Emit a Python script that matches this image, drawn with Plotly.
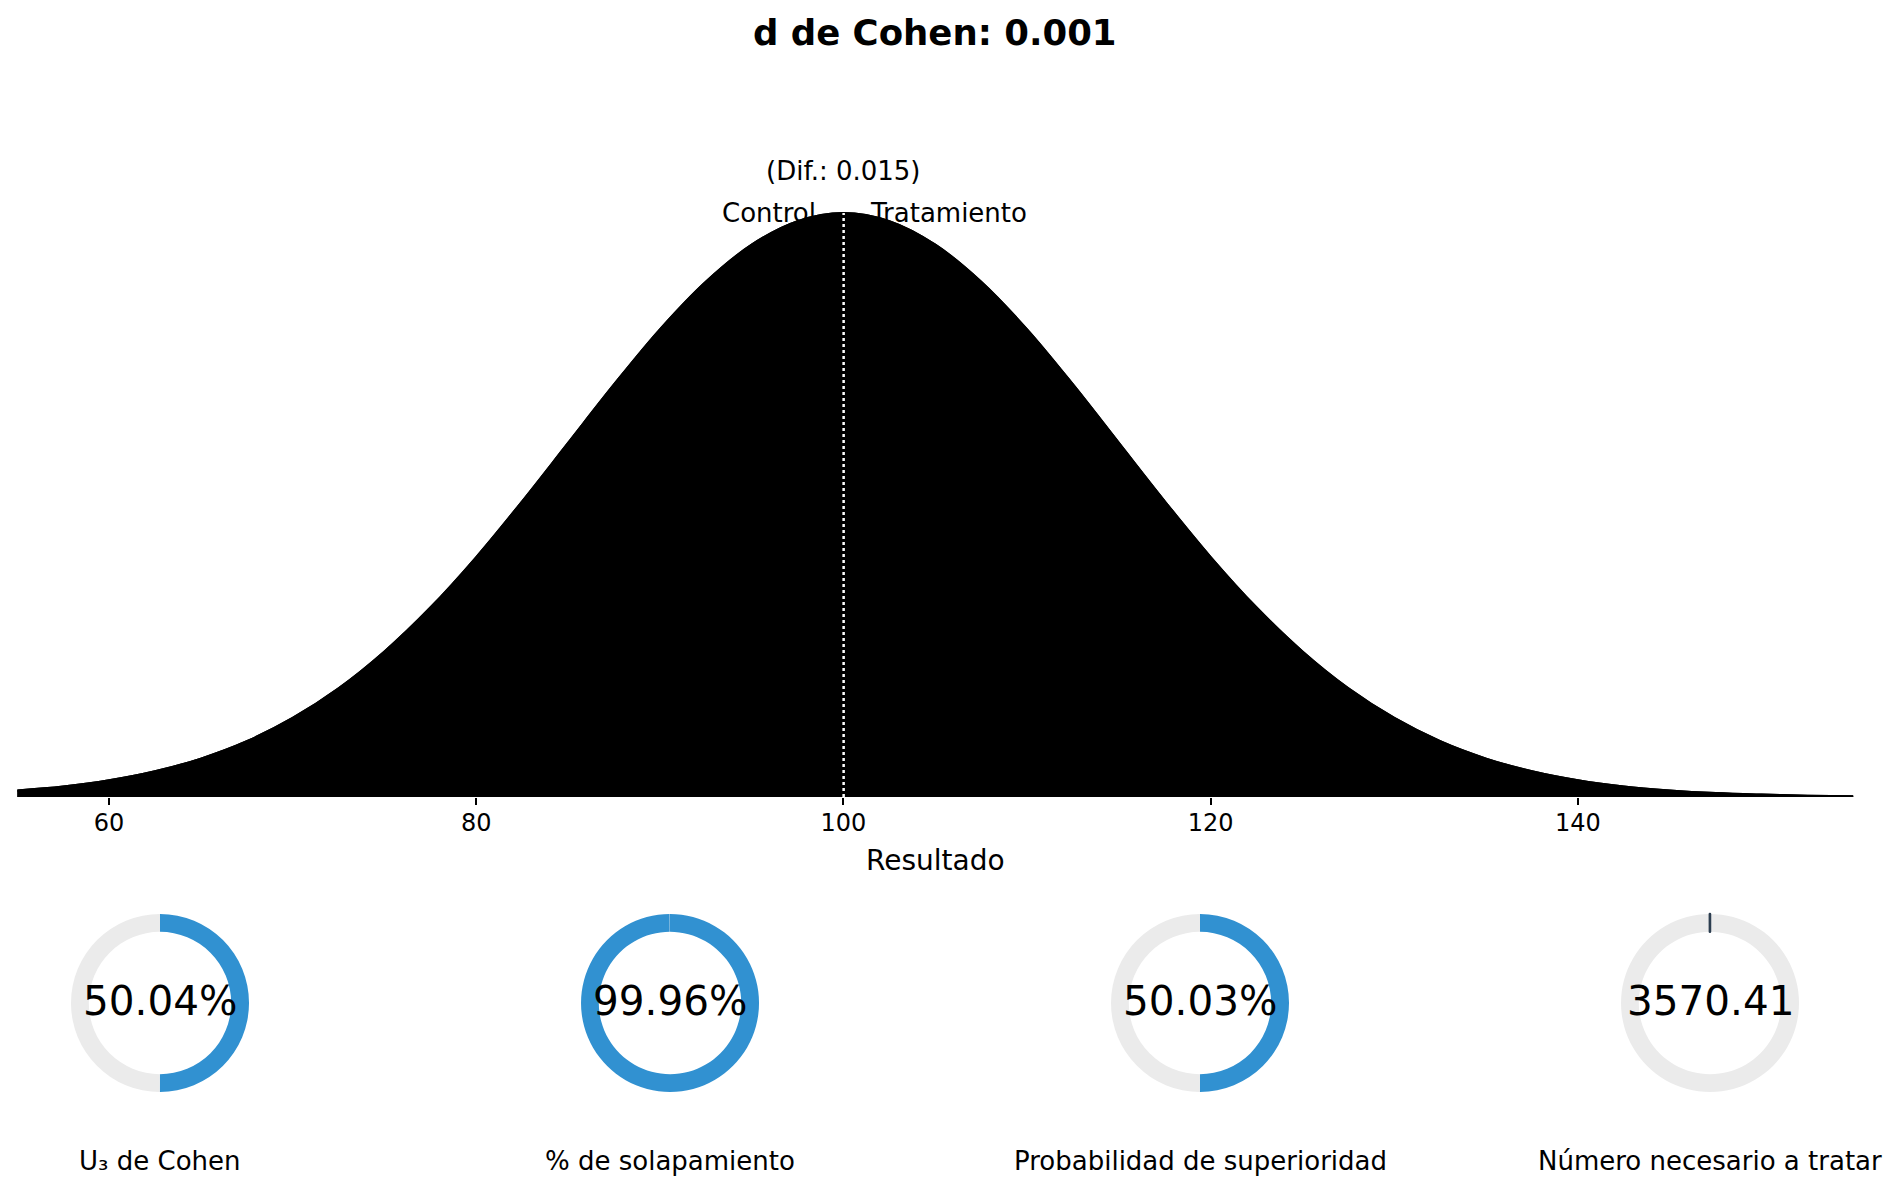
import plotly.graph_objects as go

# -----------------------------------------------------------
# Data
# -----------------------------------------------------------
x_grid = [55, 57.5, 60, 62.5, 65, 67.5, 70, 72.5, 75, 77.5, 80, 82.5, 85, 87.5,
          90, 92.5, 95, 97.5, 100, 102.5, 105, 107.5, 110, 112.5, 115, 117.5,
          120, 122.5, 125, 127.5, 130, 132.5, 135, 137.5, 140, 142.5, 145,
          147.5, 150, 152.5, 155]
control_density = [0.00030, 0.00048, 0.00076, 0.00117, 0.00175, 0.00254, 0.00360,
                   0.00495, 0.00663, 0.00863, 0.01093, 0.01347, 0.01613, 0.01879,
                   0.02130, 0.02347, 0.02516, 0.02623, 0.02660, 0.02623, 0.02516,
                   0.02347, 0.02130, 0.01879, 0.01613, 0.01347, 0.01093, 0.00863,
                   0.00663, 0.00495, 0.00360, 0.00254, 0.00175, 0.00117, 0.00076,
                   0.00048, 0.00030, 0.00018, 0.00011, 0.00006, 0.00003]
treatment_density = list(control_density)   # indistinguishable at d = 0.001

control_mean = 100.0
treatment_mean = 100.015
diff_label = "(Dif.: 0.015)"
title_text = "d de Cohen: 0.001"

x_ticks = [60, 80, 100, 120, 140]

metric_names = ["U₃ de Cohen", "% de solapamiento",
                "Probabilidad de superioridad", "Número necesario a tratar"]
metric_values = [50.04, 99.96, 50.03, 3570.41]
metric_labels = ["50.04%", "99.96%", "50.03%", "3570.41"]

# -----------------------------------------------------------
# Styling / geometry (page body has an 8px margin)
# -----------------------------------------------------------
OFF = 8
W, H = 1899 - 2 * OFF, 1192 - 2 * OFF
FONT = "DejaVu Sans"
BLUE = "#3191d1"
GREY = "#ebebeb"
DARK = "#2c3e50"

ax_left, ax_right = 17.2 - OFF, 1853.4 - OFF     # px inside the figure
ax_bottom, ax_top = 797 - OFF, 150 - OFF
peak_px = 213 - OFF
peak = max(control_density)
ymax = peak / ((ax_bottom - peak_px) / (ax_bottom - ax_top))

donut_cx = [c - OFF for c in [160, 670, 1200, 1710]]
donut_cy = 1003 - OFF
donut_r = 89
label_cy = 1161 - OFF

fig = go.Figure()

for dens, name in [(control_density, "Control"), (treatment_density, "Tratamiento")]:
    fig.add_trace(go.Scatter(
        x=x_grid, y=dens, mode="lines", name=name,
        line=dict(color="black", width=2, shape="spline"),
        fill="tozeroy", fillcolor="black",
        hoverinfo="skip", showlegend=False,
    ))

for m in [control_mean, treatment_mean]:
    fig.add_trace(go.Scatter(
        x=[m, m], y=[0, peak], mode="lines",
        line=dict(color="white", width=2, dash="dot"),
        hoverinfo="skip", showlegend=False,
    ))

# donuts
for i, (val, txt) in enumerate(zip(metric_values, metric_labels)):
    cx = donut_cx[i]
    dom_x = [(cx - donut_r) / W, (cx + donut_r) / W]
    dom_y = [1 - (donut_cy + donut_r) / H, 1 - (donut_cy - donut_r) / H]
    if txt.endswith("%"):
        vals = [val, 100 - val]
        colors = [BLUE, GREY]
        lw = [0, 0]
        lc = [BLUE, GREY]
    else:
        vals = [1 - 1 / val, 1 / val]
        colors = [GREY, DARK]
        lw = [0, 2.5]
        lc = [GREY, DARK]
    fig.add_trace(go.Pie(
        values=vals, hole=0.8, sort=False, direction="clockwise", rotation=0,
        marker=dict(colors=colors, line=dict(width=lw, color=lc)),
        textinfo="none", hoverinfo="skip", showlegend=False,
        domain=dict(x=dom_x, y=dom_y),
    ))
    fig.add_annotation(
        x=cx / W, y=1 - donut_cy / H, xref="paper", yref="paper",
        text=txt, showarrow=False, font=dict(family=FONT, size=40.5, color="black"),
        xanchor="center", yanchor="middle", yshift=2,
    )
    fig.add_annotation(
        x=cx / W, y=1 - label_cy / H, xref="paper", yref="paper",
        text=metric_names[i], showarrow=False,
        font=dict(family=FONT, size=26, color="black"),
        xanchor="center", yanchor="middle",
    )

# group labels above the peak
fig.add_annotation(x=control_mean, y=peak, text="Control", showarrow=False,
                   xanchor="right", yanchor="middle", xshift=-25,
                   font=dict(family=FONT, size=26, color="black"))
fig.add_annotation(x=control_mean, y=peak, text="Tratamiento", showarrow=False,
                   xanchor="left", yanchor="middle", xshift=25,
                   font=dict(family=FONT, size=26, color="black"))
fig.add_annotation(x=control_mean, y=peak, text=diff_label, showarrow=False,
                   xanchor="center", yanchor="middle", yshift=42,
                   font=dict(family=FONT, size=26, color="black"))

# title
fig.add_annotation(
    x=(ax_left + ax_right) / 2 / W, y=1 - (32 - OFF) / H, xref="paper", yref="paper",
    text="<b>" + title_text + "</b>", showarrow=False,
    font=dict(family=FONT, size=35.5, color="black"),
    xanchor="center", yanchor="middle",
)

fig.update_layout(
    width=W, height=H,
    margin=dict(l=0, r=0, t=0, b=0),
    paper_bgcolor="white", plot_bgcolor="white",
    font=dict(family=FONT, color="black"),
    xaxis=dict(
        domain=[ax_left / W, ax_right / W], range=[55, 155],
        tickmode="array", tickvals=x_ticks,
        ticks="outside", ticklen=7, tickwidth=1.5, tickcolor="black",
        tickfont=dict(size=24, color="black"), ticklabelstandoff=-3,
        showgrid=False, zeroline=False, showline=False,
        title=dict(text="Resultado", font=dict(size=28, color="black"), standoff=14),
    ),
    yaxis=dict(
        domain=[1 - ax_bottom / H, 1 - ax_top / H], range=[0, ymax],
        visible=False, showgrid=False, zeroline=False,
    ),
)

fig.write_html("out.html")
